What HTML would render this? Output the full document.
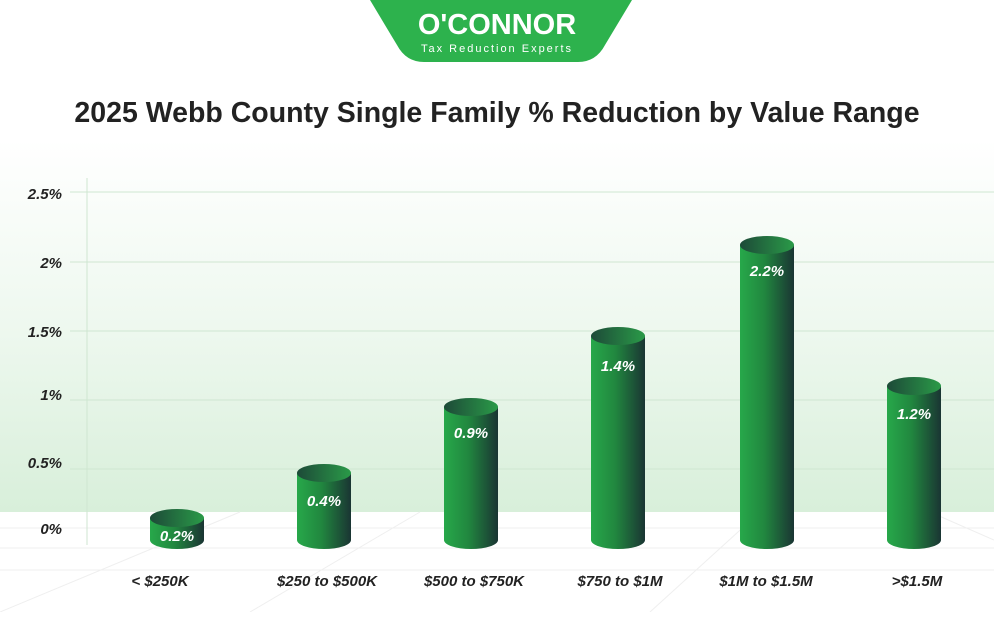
<!DOCTYPE html>
<html><head><style>
body{margin:0;width:994px;height:612px;overflow:hidden;background:#fff;font-family:"Liberation Sans",sans-serif}
</style></head><body>
<svg width="994" height="612" viewBox="0 0 994 612" xmlns="http://www.w3.org/2000/svg">
<defs>
<linearGradient id="bg" x1="0" y1="0" x2="0" y2="1">
<stop offset="0" stop-color="#ffffff"/><stop offset="0.5" stop-color="#eef8ef"/><stop offset="1" stop-color="#d8efda"/>
</linearGradient>
<linearGradient id="cyl" x1="0" y1="0" x2="1" y2="0">
<stop offset="0" stop-color="#27a84a"/><stop offset="0.45" stop-color="#21873f"/><stop offset="1" stop-color="#1a3533"/>
</linearGradient>
<linearGradient id="top" x1="0" y1="0" x2="1" y2="0">
<stop offset="0" stop-color="#1d4a38"/><stop offset="1" stop-color="#2a9a48"/>
</linearGradient>
</defs>
<rect x="0" y="140" width="994" height="372" fill="url(#bg)"/>
<g stroke="#efefef" stroke-width="1">
<line x1="0" y1="528" x2="994" y2="528"/><line x1="0" y1="548" x2="994" y2="548"/><line x1="0" y1="570" x2="994" y2="570"/>
<line x1="240" y1="512" x2="0" y2="612"/><line x1="420" y1="512" x2="250" y2="612"/><line x1="760" y1="512" x2="650" y2="612"/><line x1="930" y1="512" x2="994" y2="540"/>
</g>
<g stroke="#cfe6d1" stroke-width="1">
<line x1="70" y1="192" x2="994" y2="192"/><line x1="70" y1="262" x2="994" y2="262"/><line x1="70" y1="331" x2="994" y2="331"/><line x1="70" y1="400" x2="994" y2="400"/><line x1="70" y1="469" x2="994" y2="469"/>
<line x1="87" y1="178" x2="87" y2="545"/>
</g>
<g font-size="15" font-weight="bold" font-style="italic" fill="#222" text-anchor="end">
<text x="62" y="199">2.5%</text><text x="62" y="268">2%</text><text x="62" y="337">1.5%</text><text x="62" y="400">1%</text><text x="62" y="468">0.5%</text><text x="62" y="534">0%</text>
</g>
<path d="M370 0 H632 Q620 20 605 45 Q596 62 578 62 H424 Q406 62 397 45 Q382 20 370 0Z" fill="#2db24d"/>
<text x="497" y="34" font-size="29" font-weight="bold" fill="#fff" text-anchor="middle">O'CONNOR</text>
<text x="497" y="52" font-size="11" fill="#fff" text-anchor="middle" letter-spacing="2">Tax Reduction Experts</text>
<text x="497" y="122" font-size="28.5" font-weight="bold" fill="#222" text-anchor="middle">2025 Webb County Single Family % Reduction by Value Range</text>
<g>
<g><path d="M150 518 V540 A27 9 0 0 0 204 540 V518Z" fill="url(#cyl)"/><ellipse cx="177" cy="518" rx="27" ry="9" fill="url(#top)"/><text x="177" y="541" font-size="15" font-weight="bold" font-style="italic" fill="#fff" text-anchor="middle">0.2%</text></g>
<g><path d="M297 473 V540 A27 9 0 0 0 351 540 V473Z" fill="url(#cyl)"/><ellipse cx="324" cy="473" rx="27" ry="9" fill="url(#top)"/><text x="324" y="506" font-size="15" font-weight="bold" font-style="italic" fill="#fff" text-anchor="middle">0.4%</text></g>
<g><path d="M444 407 V540 A27 9 0 0 0 498 540 V407Z" fill="url(#cyl)"/><ellipse cx="471" cy="407" rx="27" ry="9" fill="url(#top)"/><text x="471" y="438" font-size="15" font-weight="bold" font-style="italic" fill="#fff" text-anchor="middle">0.9%</text></g>
<g><path d="M591 336 V540 A27 9 0 0 0 645 540 V336Z" fill="url(#cyl)"/><ellipse cx="618" cy="336" rx="27" ry="9" fill="url(#top)"/><text x="618" y="371" font-size="15" font-weight="bold" font-style="italic" fill="#fff" text-anchor="middle">1.4%</text></g>
<g><path d="M740 245 V540 A27 9 0 0 0 794 540 V245Z" fill="url(#cyl)"/><ellipse cx="767" cy="245" rx="27" ry="9" fill="url(#top)"/><text x="767" y="276" font-size="15" font-weight="bold" font-style="italic" fill="#fff" text-anchor="middle">2.2%</text></g>
<g><path d="M887 386 V540 A27 9 0 0 0 941 540 V386Z" fill="url(#cyl)"/><ellipse cx="914" cy="386" rx="27" ry="9" fill="url(#top)"/><text x="914" y="419" font-size="15" font-weight="bold" font-style="italic" fill="#fff" text-anchor="middle">1.2%</text></g>
</g>
<g font-size="15" font-weight="bold" font-style="italic" fill="#222" text-anchor="middle">
<text x="160" y="586">&lt; $250K</text><text x="327" y="586">$250 to $500K</text><text x="474" y="586">$500 to $750K</text><text x="620" y="586">$750 to $1M</text><text x="766" y="586">$1M to $1.5M</text><text x="917" y="586">&gt;$1.5M</text>
</g>
</svg>
</body></html>
